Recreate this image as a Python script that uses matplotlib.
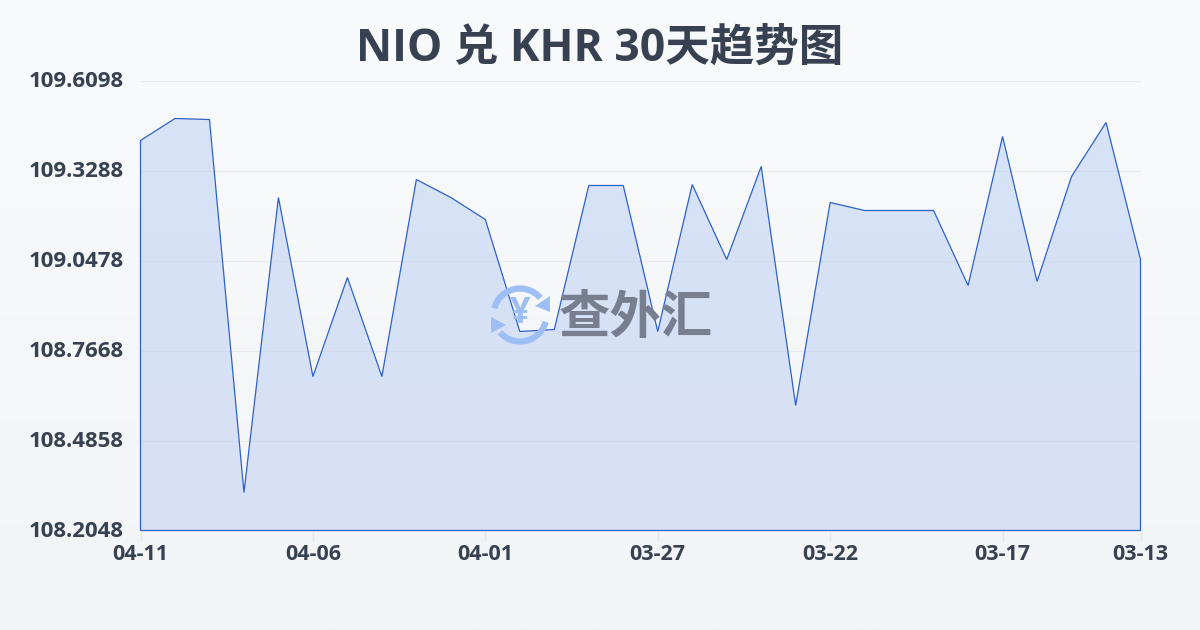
import numpy as np
import matplotlib
matplotlib.use("Agg")
import matplotlib.pyplot as plt
from matplotlib.colors import LinearSegmentedColormap
from matplotlib.patches import Arc, Polygon
from matplotlib.transforms import ScaledTranslation

plt.rcParams['font.family'] = ['Open Sans', 'Noto Sans CJK SC', 'DejaVu Sans']

# data (newest day first, as on the axis)
dates = ["04-11", "04-10", "04-09", "04-08", "04-07", "04-06", "04-05", "04-04", "04-03", "04-02",
         "04-01", "03-31", "03-30", "03-29", "03-28", "03-27", "03-26", "03-25", "03-24", "03-23",
         "03-22", "03-21", "03-20", "03-19", "03-18", "03-17", "03-16", "03-15", "03-14", "03-13"]
rates = [109.4225, 109.4912, 109.4880, 108.3234, 109.2445, 108.6856, 108.9947, 108.6856, 109.3007, 109.2445,
         109.1758, 108.8261, 108.8324, 109.2820, 109.2820, 108.8261, 109.2851, 109.0509, 109.3413, 108.5951,
         109.2289, 109.2039, 109.2039, 109.2039, 108.9697, 109.4350, 108.9822, 109.3101, 109.4787, 109.0509]
y_ticks = [108.2048, 108.4858, 108.7668, 109.0478, 109.3288, 109.6098]
title = "NIO 兑 KHR 30天趋势图"
watermark = "查外汇"

W, H = 1200, 630
TEXT = "#374151"

fig = plt.figure(figsize=(W / 100, H / 100), dpi=100)

# page background gradient
bg = fig.add_axes([0, 0, 1, 1], zorder=0)
bg.axis("off")
bg_cmap = LinearSegmentedColormap.from_list("bg", ["#f8fafc", "#f3f4f6"])
bg.imshow(np.linspace(0, 1, 256).reshape(-1, 1), cmap=bg_cmap, aspect="auto", extent=[0, W, H, 0])
bg.set_xlim(0, W)
bg.set_ylim(H, 0)

# chart area
ax = fig.add_axes([140.5 / W, 1 - 530.5 / H, 1000 / W, 450 / H], zorder=1)
ax.patch.set_alpha(0)
x = np.arange(len(rates))
ax.set_xlim(0, len(rates) - 1)
ax.set_ylim(y_ticks[0], y_ticks[-1])

ax.grid(axis="y", color="#e8eaee", lw=0.8)
ax.set_axisbelow(True)
for s in ax.spines.values():
    s.set_visible(False)

# area fill with a faint vertical gradient, clipped to the series outline
fill_cmap = LinearSegmentedColormap.from_list("fill", ["#d6e3f7", "#d9e0f4"])
grad = ax.imshow(np.linspace(0, 1, 256).reshape(-1, 1), cmap=fill_cmap, aspect="auto",
                 extent=[0, len(rates) - 1, y_ticks[0], y_ticks[-1]], origin="upper", zorder=1.5)
outline = np.column_stack([np.r_[x, x[-1], x[0]], np.r_[rates, y_ticks[0], y_ticks[0]]])
clip = Polygon(outline, closed=True, transform=ax.transData, fc="none", ec="none")
ax.add_patch(clip)
grad.set_clip_path(clip)

# gridlines show faintly through the fill
for v in y_ticks[1:-1]:
    line = ax.axhline(v, color="#d2dbec", lw=0.8, zorder=1.6)
    line.set_clip_path(clip)

ax.add_patch(Polygon(outline, closed=True, fc="none", ec="#2f62c8", lw=0.9, zorder=3, clip_on=False))

ax.set_xticks(x[::5].tolist() + [x[-1]])
ax.set_xticklabels(dates[::5] + [dates[-1]], fontsize=15.5, fontweight="bold", color=TEXT)
ax.set_yticks(y_ticks)
ax.set_yticklabels([f"{v:.4f}" for v in y_ticks], fontsize=16, fontweight="bold", color=TEXT)
ax.tick_params(axis="x", length=8, width=1, color="#e5e7eb", pad=2)
ax.tick_params(axis="y", length=0, pad=12)
# y labels sit 2px above their gridline
up = ScaledTranslation(0, 2 / 100, fig.dpi_scale_trans)
for lab in ax.get_yticklabels():
    lab.set_transform(lab.get_transform() + up)

fig.text(600 / W, 1 - 49 / H, title, ha="center", va="center", fontsize=32,
         fontweight="bold", color=TEXT)

# watermark, drawn in pixel coordinates above the chart
wm = fig.add_axes([0, 0, 1, 1], zorder=2)
wm.axis("off")
wm.patch.set_alpha(0)
wm.set_xlim(0, W)
wm.set_ylim(H, 0)
ICON = "#9dbff5"
cx, cy, d = 520, 315, 53
wm.add_patch(Arc((cx, cy), d, d, theta1=195, theta2=320, ec=ICON, lw=4.5))
wm.add_patch(Arc((cx, cy), d, d, theta1=15, theta2=139, ec=ICON, lw=4.5))
wm.add_patch(Polygon([[550, 296], [550, 312], [535, 306]], closed=True, fc=ICON, ec="none"))
wm.add_patch(Polygon([[491, 317], [506, 325], [491, 333]], closed=True, fc=ICON, ec="none"))
wm.text(cx, cy - 1, "¥", ha="center", va="center", fontsize=26, fontweight="bold", color=ICON)
wm.text(636, 318, watermark, ha="center", va="center", fontsize=37, fontweight="bold",
        color="#767e90", family=['Noto Sans CJK SC', 'DejaVu Sans'])

fig.savefig("out.png", dpi=100)
